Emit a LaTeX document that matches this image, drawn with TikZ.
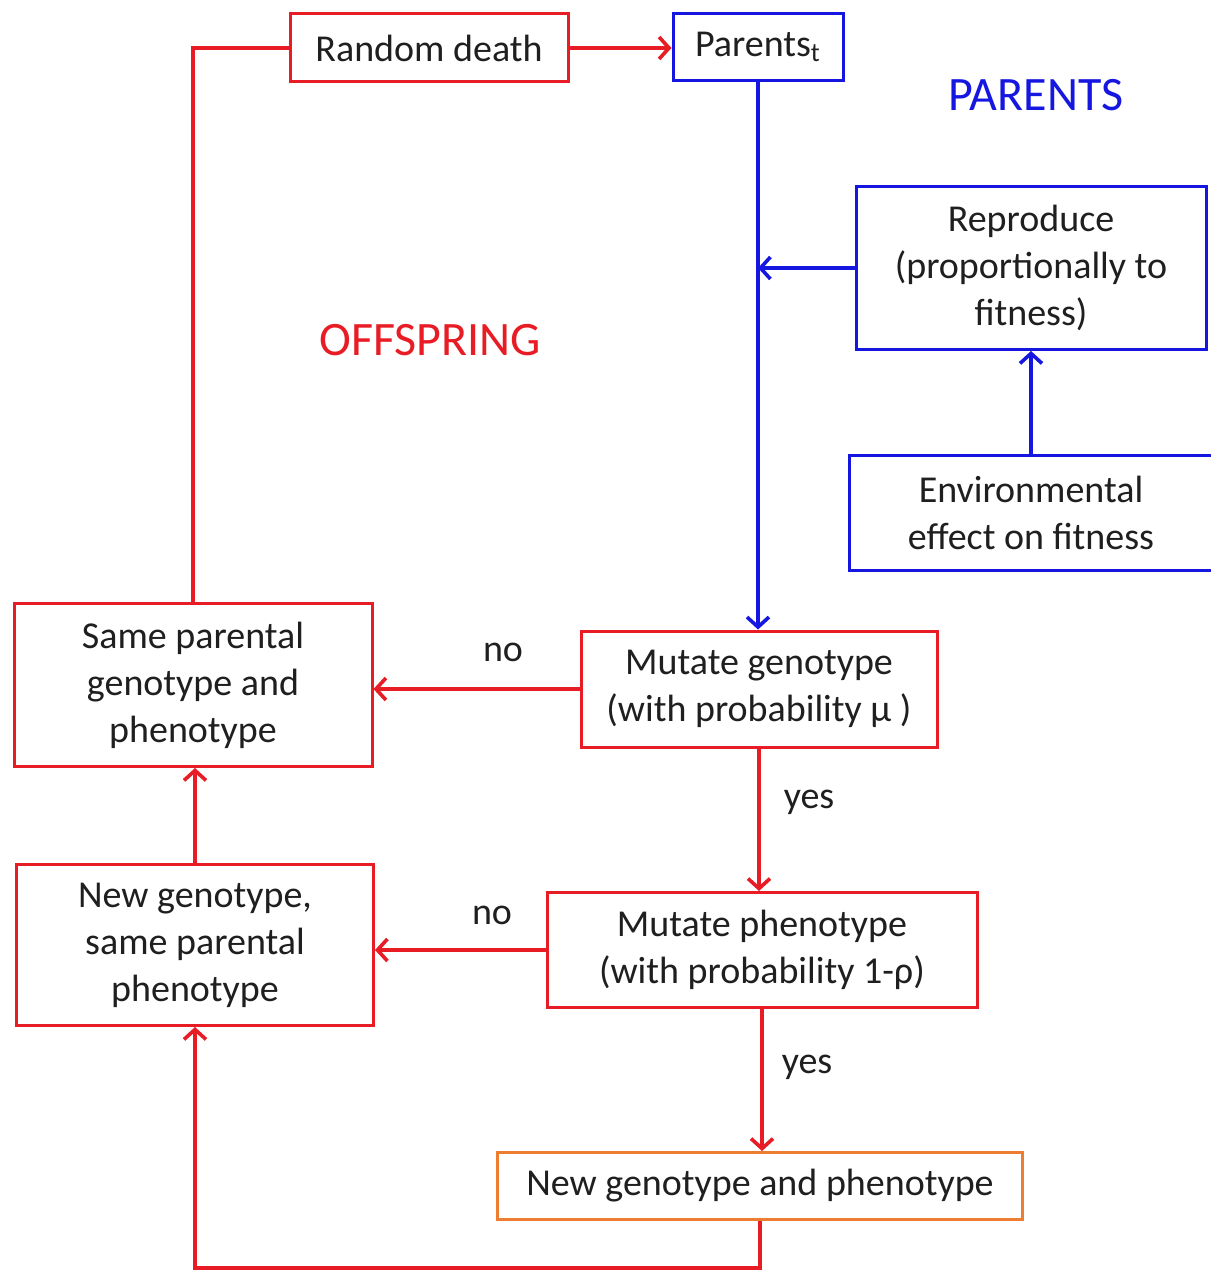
\documentclass[tikz,border=0pt]{standalone}
\usepackage{fontspec}
\setmainfont{Carlito}
\usetikzlibrary{arrows.meta,positioning}
\definecolor{boxred}{RGB}{232,28,36}
\definecolor{boxblue}{RGB}{22,22,225}
\definecolor{boxorange}{RGB}{237,125,49}
\tikzset{
    box/.style={draw, line width=1.5pt, fill=white, align=center, inner sep=0pt,
                font=\fontsize{19}{23.5}\selectfont, text=black!88},
    redbox/.style={box, draw=boxred},
    bluebox/.style={box, draw=boxblue},
    orangebox/.style={box, draw=boxorange},
    redline/.style={draw=boxred, line width=2.1pt},
    blueline/.style={draw=boxblue, line width=2.1pt},
    lbl/.style={font=\fontsize{19}{23.5}\selectfont, text=black!88},
    >={Straight Barb[length=5pt,width=11pt,line width=1.8pt]}
}

\begin{document}
\begin{tikzpicture}[x=0.5pt,y=-0.5pt]
            \useasboundingbox (0,0) rectangle (1210,1272);

            % Titles
            \node[font=\fontsize{24}{28}\selectfont, text=boxblue] (ttlparents) at (1036,95) {PARENTS};
            \node[font=\fontsize{24}{28}\selectfont, text=boxred] (ttloffspring) at (430,340) {OFFSPRING};

            % Boxes
            \node[redbox, minimum width=139pt, minimum height=34pt] (death) at (429,48) {Random death};
            \node[bluebox, minimum width=85pt, minimum height=33.5pt] (parents) at (758,47) {Parents\textsubscript{t}};
            \node[bluebox, minimum width=175pt, minimum height=81.5pt] (reproduce) at (1031,268) {Reproduce\\(proportionally to\\fitness)};
            \node[bluebox, minimum width=182pt, minimum height=57.5pt] (environ) at (1031,513) {Environmental\\effect on fitness};
            \node[redbox, minimum width=178pt, minimum height=58pt] (mutgeno) at (759,689) {Mutate genotype\\(with probability μ )};
            \node[redbox, minimum width=179pt, minimum height=81.5pt] (samepar) at (193,685) {Same parental\\genotype and\\phenotype};
            \node[redbox, minimum width=215pt, minimum height=57.5pt] (mutpheno) at (762,950) {Mutate phenotype\\(with probability 1-ρ)};
            \node[redbox, minimum width=178.5pt, minimum height=80.5pt] (newgeno) at (195,945) {New genotype,\\same parental\\phenotype};
            \node[orangebox, minimum width=262.5pt, minimum height=33.5pt] (newboth) at (760,1186) {New genotype and phenotype};

            % Helper points
            \coordinate (join) at (parents.south |- reproduce.west);
            \coordinate (topleft) at (samepar.north |- death.west);
            \coordinate (botright) at (newboth.south |- 0,1268);
            \coordinate (botleft) at (newgeno.south |- 0,1268);

            % Blue connectors
            \draw[blueline, ->] (parents.south) -- (parents.south |- mutgeno.north);
            \draw[blueline, ->] (reproduce.west) -- (join);
            \draw[blueline, ->] (environ.north) -- (environ.north |- reproduce.south);

            % Red connectors
            \draw[redline, ->] (death.east) -- (death.east -| parents.west);
            \draw[redline] (samepar.north) -- (topleft) -- (death.west);
            \draw[redline, ->] (mutgeno.west) -- (samepar.east |- mutgeno.west);
            \draw[redline, ->] (mutgeno.south) -- (mutgeno.south |- mutpheno.north);
            \draw[redline, ->] (mutpheno.west) -- (newgeno.east |- mutpheno.west);
            \draw[redline, ->] (mutpheno.south) -- (mutpheno.south |- newboth.north);
            \draw[redline, ->] (newboth.south) -- (botright) -- (botleft) -- (newgeno.south);
            \draw[redline, ->] (newgeno.north) -- (newgeno.north |- samepar.south);

            % Labels
            \node[lbl] (no1) at (503,652) {no};
            \node[lbl] (yes1) at (809,802) {yes};
            \node[lbl] (no2) at (492,915) {no};
            \node[lbl] (yes2) at (807,1067) {yes};
        \end{tikzpicture}
\end{document}
